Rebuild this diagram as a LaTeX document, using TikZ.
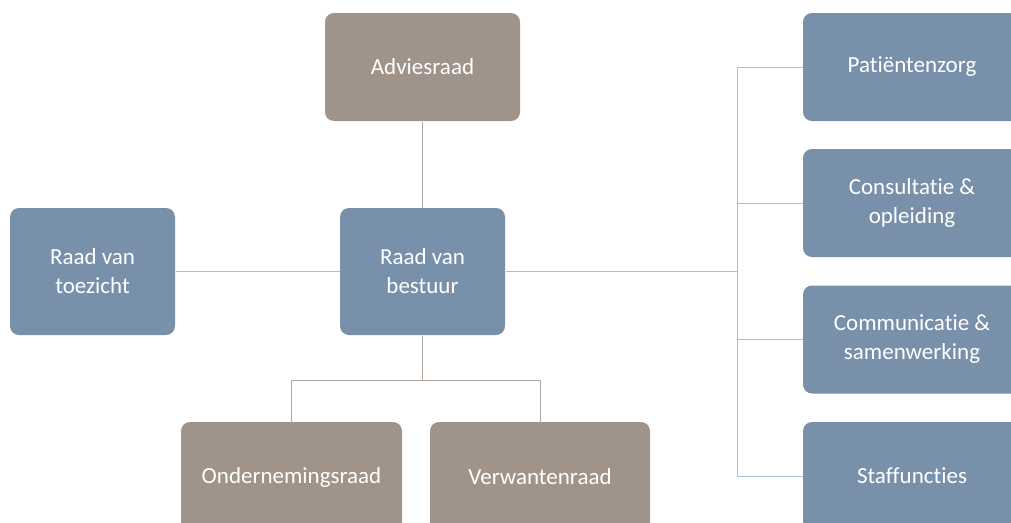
\documentclass[tikz,border=0pt]{standalone}
\usepackage{fontspec}
\setmainfont{Carlito}[Ligatures=NoCommon]
\usepackage{tikz}
\definecolor{boxblue}{HTML}{7890AA}
\definecolor{boxbrown}{HTML}{A09389}
\definecolor{lineblue}{HTML}{A9BED6}
\definecolor{linebrown}{HTML}{B3A89F}

\begin{document}
\begin{tikzpicture}[x=1pt, y=-1pt, line width=1pt,
    unit/.style={rounded corners=9pt, text=white, align=center, inner sep=0pt,
      font=\fontsize{23}{29}\selectfont},
    bluebox/.style={unit, fill=boxblue},
    brownbox/.style={unit, fill=boxbrown},
    bluelink/.style={draw=lineblue},
    brownlink/.style={draw=linebrown}]
    \useasboundingbox (0, 0) rectangle (1011, 522);
    \clip (0, 0) rectangle (1011, 522);

    % draw top and centre units
    \node[brownbox, minimum width=195pt, minimum height=108pt] (advies) at (422.5, 67) {Adviesraad};
    \node[bluebox, minimum width=165pt, minimum height=127pt] (toezicht) at (92.5, 271.5) {Raad van\\toezicht};
    \node[bluebox, minimum width=165pt, minimum height=127pt] (bestuur) at (422.5, 271.5) {Raad van\\bestuur};

    % draw bottom units
    \node[brownbox, minimum width=221pt, minimum height=110pt] (onder) at (291.5, 477) {Ondernemingsraad};
    \node[brownbox, minimum width=220pt, minimum height=110pt] (verwant) at (540, 477) {Verwantenraad};

    % draw right units
    \node[bluebox, minimum width=218pt, minimum height=108pt] (patient) at (912, 67) {Patiëntenzorg};
    \node[bluebox, minimum width=218pt, minimum height=108pt] (consult) at (912, 203) {Consultatie \&\\opleiding};
    \node[bluebox, minimum width=218pt, minimum height=108pt] (commun) at (912, 339.5) {Communicatie \&\\samenwerking};
    \node[bluebox, minimum width=218pt, minimum height=108pt] (staf) at (912, 476) {Staffuncties};

    % draw links
    \draw[brownlink] (advies.south) -- (bestuur.north);
    \draw[bluelink] (toezicht.east) -- (bestuur.west);

    \coordinate (bus) at (737, 271.5);
    \draw[bluelink] (bestuur.east) -- (bus);
    \draw[bluelink] (patient.west -| bus) -- (staf.west -| bus);
    \foreach \unit in {patient, consult, commun, staf}
      \draw[bluelink] (\unit.west -| bus) -- (\unit.west);

    \coordinate (split) at (422.5, 380);
    \draw[brownlink] (bestuur.south) -- (split);
    \draw[brownlink] (onder.north |- split) -- (verwant.north |- split);
    \draw[brownlink] (onder.north |- split) -- (onder.north);
    \draw[brownlink] (verwant.north |- split) -- (verwant.north);

\end{tikzpicture}
\end{document}
